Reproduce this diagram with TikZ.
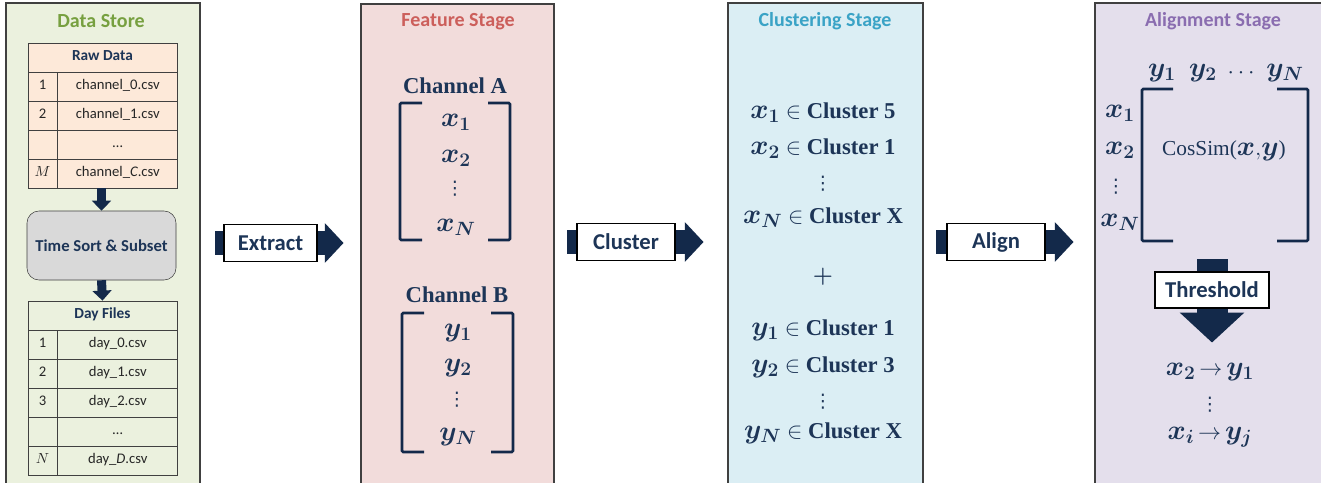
\documentclass[tikz,border=0pt]{standalone}
\usepackage{fontspec}
\setmainfont{Liberation Serif}
\setsansfont{Carlito}
\newfontfamily\dejavu{DejaVu Sans}
\usepackage{amsmath}
\usepackage{xcolor}
\usepackage{tikz}
\usetikzlibrary{positioning, arrows.meta}

\definecolor{navy}{HTML}{13294A}
\definecolor{ink}{HTML}{1D3557}
\definecolor{frame}{HTML}{404040}
\definecolor{storefill}{HTML}{EBF1DE}
\definecolor{storetext}{HTML}{77A040}
\definecolor{rawfill}{HTML}{FDE9D9}
\definecolor{sortfill}{HTML}{D9D9D9}
\definecolor{featfill}{HTML}{F2DCDB}
\definecolor{feattext}{HTML}{CC5F5B}
\definecolor{clusfill}{HTML}{DBEEF4}
\definecolor{clustext}{HTML}{3AA3C6}
\definecolor{alignfill}{HTML}{E4DFEC}
\definecolor{aligntext}{HTML}{8A6DB0}

% bold variable and short vertical dots
\newcommand\mv[1]{{\fontsize{21}{24}\selectfont$\boldsymbol{#1}$}}
\newcommand\vdotz{{\dejavu ⋮}}

\pgfdeclarelayer{panels}
\pgfdeclarelayer{arrows}
\pgfsetlayers{panels,arrows,main}

\begin{document}
\begin{tikzpicture}[x=0.75pt, y=-0.75pt, >=Stealth,
    panel/.style={draw=frame, line width=1pt},
    title/.style={font=\sffamily\bfseries\fontsize{15}{18}\selectfont},
    cell/.style={draw=frame, line width=0.6pt, minimum height=21.75pt, inner sep=0pt, text height=7.5pt, text depth=2.5pt, font=\sffamily\fontsize{11}{13}\selectfont, text=black!85},
    numcell/.style={cell, minimum width=21.75pt},
    namecell/.style={cell, minimum width=90pt},
    headcell/.style={cell, minimum width=111.75pt, font=\sffamily\bfseries\fontsize{11.5}{13}\selectfont, text=ink},
    mathtext/.style={text=ink, inner sep=1pt, font=\bfseries\fontsize{17}{20}\selectfont},
    dotstext/.style={text=ink, inner sep=0pt, font=\fontsize{14}{16}\selectfont},
    stagebox/.style={draw=black, fill=white, line width=0.8pt, minimum height=27.75pt, inner sep=2pt, font=\sffamily\bfseries\fontsize{17}{20}\selectfont, text=ink},
    bigarrow/.style={navy, line width=18pt, -{Triangle[length=14pt, width=29pt]}},
    smallarrow/.style={navy, line width=6.75pt, -{Triangle[length=7.5pt, width=14pt]}},
    bracket/.style={navy, line width=2pt, rounded corners=1pt},
]
    \useasboundingbox (0,0) rectangle (1321,482);
    \clip (0,0) rectangle (1321,482);

    % Columns
    \begin{pgfonlayer}{panels}
    \draw[panel, fill=storefill] (6,3) rectangle (200,492); % data store column
    \draw[panel, fill=featfill] (361,4) rectangle (554,492); % feature column
    \draw[panel, fill=clusfill] (728,3) rectangle (923,492); % clustering column
    \draw[panel, fill=alignfill] (1095,3) rectangle (1330,492); % alignment column
    \end{pgfonlayer}

    % Titles
    \node (storetitle) [title, text=storetext] at (101,21) {Data Store};
    \node (feattitle) [title, text=feattext] at (458,22) {Feature Stage};
    \node (clustitle) [title, text=clustext] at (825,21) {Clustering Stage};
    \node (aligntitle) [title, text=aligntext] at (1213,21) {Alignment Stage};

    % Raw data table
    \node (rawhead) [headcell, fill=rawfill] at (102.5,57.5) {Raw Data};
    \foreach \n/\f [count=\i] in {1/channel\_0.csv, 2/channel\_1.csv, /\ldots, $M$/channel\_\textit{C}.csv} {
        \node (rawnum\i) [numcell, fill=rawfill] at (42.5,57.5+29*\i) {\n};
        \node (rawname\i) [namecell, fill=rawfill, right=0pt of rawnum\i] {\f};
    }

    % Sorting step
    \node (sort) [draw=frame, fill=sortfill, rounded corners=9pt, minimum width=111.75pt, minimum height=51.75pt, font=\sffamily\bfseries\fontsize{12.5}{14}\selectfont, text=ink] at (101.5,245.5) {Time Sort \& Subset};

    % Day files table
    \node (dayhead) [headcell, fill=storefill] at (102.5,315.5) {Day Files};
    \foreach \n/\f [count=\i] in {1/day\_0.csv, 2/day\_1.csv, 3/day\_2.csv, /\ldots, $N$/day\_\textit{D}.csv} {
        \node (daynum\i) [numcell, fill=storefill] at (42.5,315.5+29*\i) {\n};
        \node (dayname\i) [namecell, fill=storefill, right=0pt of daynum\i] {\f};
    }

    \draw[smallarrow] (rawname4.south -| sort.north) -- (sort.north); % raw files into sorting
    \draw[smallarrow] (sort.south) -- (dayhead.north); % sorting into day files

    % Feature stage
    \node (chanA) [mathtext] at (455,86) {Channel A};
    \node (xa1) [mathtext] at (456,122) {\mv{x_1}};
    \node (xa2) [mathtext] at (456,158) {\mv{x_2}};
    \node (xadots) [dotstext] at (455,189) {\vdotz};
    \node (xaN) [mathtext] at (456,227) {\mv{x_N}};
    \draw[bracket] (422,103) -- (400,103) -- (400,240) -- (422,240);
    \draw[bracket] (488,103) -- (510,103) -- (510,240) -- (488,240);

    \node (chanB) [mathtext] at (457,295) {Channel B};
    \node (yb1) [mathtext] at (458,333) {\mv{y_1}};
    \node (yb2) [mathtext] at (458,368) {\mv{y_2}};
    \node (ybdots) [dotstext] at (457,400) {\vdotz};
    \node (ybN) [mathtext] at (458,437) {\mv{y_N}};
    \draw[bracket] (424,313) -- (402,313) -- (402,452) -- (424,452);
    \draw[bracket] (491,313) -- (513,313) -- (513,452) -- (491,452);

    % Clustering stage
    \node (cx1) [mathtext] at (823,113) {\mv{x_1} $\in$ Cluster 5};
    \node (cx2) [mathtext] at (823,149) {\mv{x_2} $\in$ Cluster 1};
    \node (cxdots) [dotstext] at (823,184) {\vdotz};
    \node (cxN) [mathtext] at (823,218) {\mv{x_N} $\in$ Cluster X};
    \node (plus) [mathtext] at (823,277) {$\boldsymbol{+}$};
    \node (cy1) [mathtext] at (823,330) {\mv{y_1} $\in$ Cluster 1};
    \node (cy2) [mathtext] at (823,367) {\mv{y_2} $\in$ Cluster 3};
    \node (cydots) [dotstext] at (823,402) {\vdotz};
    \node (cyN) [mathtext] at (823,433) {\mv{y_N} $\in$ Cluster X};

    % Alignment stage
    \node (ay1) [mathtext] at (1162,73) {\mv{y_1}};
    \node (ay2) [mathtext] at (1203,73) {\mv{y_2}};
    \node (aydots) [mathtext] at (1243,73) {$\cdots$};
    \node (ayN) [mathtext] at (1285,73) {\mv{y_N}};
    \node (ax1) [mathtext] at (1120,113) {\mv{x_1}};
    \node (ax2) [mathtext] at (1120,150) {\mv{x_2}};
    \node (axdots) [dotstext] at (1116,187) {\vdotz};
    \node (axN) [mathtext] at (1120,222) {\mv{x_N}};
    \draw[bracket] (1173,89) -- (1142,89) -- (1142,241) -- (1173,241);
    \draw[bracket] (1277,89) -- (1308,89) -- (1308,241) -- (1277,241);
    \node (cossim) [text=ink, font=\fontsize{16}{19}\selectfont] at (1224,151) {CosSim(\mv{x}{\fontsize{18}{20}\selectfont$,$}\mv{y})};

    \node (res1) [mathtext] at (1210,372) {\mv{x_2}$\,\rightarrow\,$\mv{y_1}};
    \node (resdots) [dotstext] at (1210,405) {\vdotz};
    \node (res2) [mathtext] at (1210,437) {\mv{x_i}$\,\rightarrow\,$\mv{y_j}};

    % Stage arrows
    \node (extract) [stagebox, minimum width=69.75pt] at (270.5,243) {Extract};
    \node (cluster) [stagebox, minimum width=73.5pt] at (626,242) {Cluster};
    \node (align) [stagebox, minimum width=73.5pt] at (996,242) {Align};
    \node (thresh) [stagebox, minimum width=85.5pt, minimum height=27pt] at (1212,290) {Threshold};

    \begin{pgfonlayer}{arrows}
    \draw[bigarrow] ([xshift=-6pt]extract.west) -- ([xshift=19.5pt]extract.east); % data store to features
    \draw[bigarrow] ([xshift=-6.75pt]cluster.west) -- ([xshift=21pt]cluster.east); % features to clusters
    \draw[bigarrow] ([xshift=-7.5pt]align.west) -- ([xshift=21pt]align.east); % clusters to alignment
    \draw[navy, line width=23.25pt, -{Triangle[length=22.5pt, width=47.25pt]}] ([yshift=9pt]thresh.north) -- ([yshift=-25.5pt]thresh.south); % similarity to matches
    \end{pgfonlayer}
\end{tikzpicture}
\end{document}
